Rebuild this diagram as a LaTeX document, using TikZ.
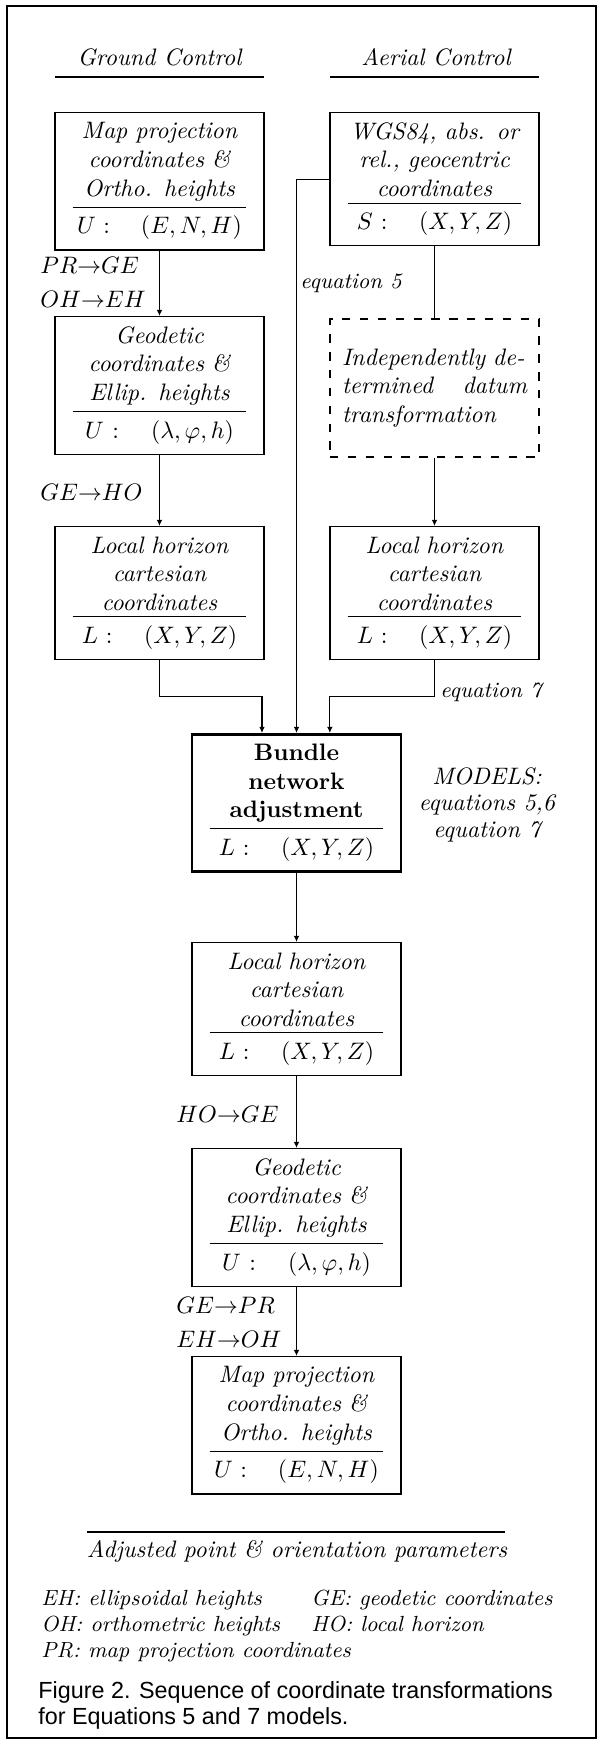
\documentclass[tikz,border=0pt]{standalone}
\usepackage{amsmath,amssymb}
\usepackage{fontspec}
\newfontfamily\capfont{Liberation Sans}
\usetikzlibrary{arrows.meta}

\newcommand{\crdbox}[2]{#1\par\vspace{2.4pt}\hrule\vspace{3.6pt}#2}

\begin{document}
\begin{tikzpicture}[x=0.42pt, y=-0.42pt,
  crd/.style={draw, line width=0.6pt, text width=73pt, inner xsep=7.4pt, inner ysep=4.15pt, align=center, font=\itshape, anchor=north},
  bund/.style={crd, line width=1.2pt, font=\bfseries},
  datum/.style={draw, line width=0.9pt, dash pattern=on 3.5pt off 4pt, text width=77.7pt, inner xsep=5.05pt, minimum height=58pt, align=left, font=\itshape, anchor=north},
  lbl/.style={inner sep=0pt, anchor=base west, font=\itshape},
  leg/.style={lbl, font=\itshape\fontsize{9.2}{11}\selectfont},
  figcap/.style={inner sep=0pt, anchor=base west, font=\capfont\fontsize{9.8}{11}\selectfont},
  conn/.style={line width=0.5pt, -{Latex[length=2.6pt,width=2.4pt]}},
  ]
\useasboundingbox (0,0) rectangle (598,1745);
\draw[line width=0.6pt] (7,6) rectangle (596,1738);

\node[lbl, anchor=base] (hdgr) at (159.5,65) {Ground Control};
\node[lbl, anchor=base] (hdae) at (436,65) {Aerial Control};
\draw[line width=0.6pt] (55,77) -- (264,77);
\draw[line width=0.6pt] (330,77) -- (539,77);

\node[crd] (gmap) at (159.5,112) {\crdbox{Map projection\\ coordinates \&\\ Ortho. heights}{$U:\quad(E,N,H)$}};
\node[crd] (ggeo) at (159.5,316) {\crdbox{Geodetic\\ coordinates \&\\ Ellip. heights}{$U:\quad(\lambda,\varphi,h)$}};
\node[crd] (gloc) at (159.5,526) {\crdbox{Local horizon\\ cartesian\\ coordinates}{$L:\quad(X,Y,Z)$}};

\node[crd] (awgs) at (434.5,112) {\crdbox{WGS84, abs. or\\ rel., geocentric\\ coordinates}{$S:\quad(X,Y,Z)$}};
\node[datum] (adat) at (434.5,318) {Independently de-\\ termined\hfill datum\\ transformation};
\node[crd] (aloc) at (434.5,526) {\crdbox{Local horizon\\ cartesian\\ coordinates}{$L:\quad(X,Y,Z)$}};

\node[bund] (bna) at (296.5,733) {\crdbox{Bundle\\ network\\ adjustment}{$L:\quad(X,Y,Z)$}};
\node[crd] (oloc) at (296.5,942) {\crdbox{Local horizon\\ cartesian\\ coordinates}{$L:\quad(X,Y,Z)$}};
\node[crd] (ogeo) at (296.5,1148) {\crdbox{Geodetic\\ coordinates \&\\ Ellip. heights}{$U:\quad(\lambda,\varphi,h)$}};
\node[crd] (omap) at (296.5,1356) {\crdbox{Map projection\\ coordinates \&\\ Ortho. heights}{$U:\quad(E,N,H)$}};

\draw[conn] (gmap) -- (ggeo);
\draw[conn] (ggeo) -- (gloc);
\draw[conn] (gloc.south) -- ++(0,36) -| ([xshift=-14.5pt]bna.north);
\draw[conn] (awgs.west) -| (bna.north);
\draw[line width=0.5pt] (awgs) -- (adat);
\draw[conn] (adat) -- (aloc);
\draw[conn] (aloc.south) -- ++(0,36) -| ([xshift=14pt]bna.north);
\draw[conn] (bna) -- (oloc);
\draw[conn] (oloc) -- (ogeo);
\draw[conn] (ogeo) -- (omap);

\node[lbl] (lpg) at (40,273) {$PR{\rightarrow}GE$};
\node[lbl] (loe) at (40,307) {$OH{\rightarrow}EH$};
\node[lbl] (lgh) at (40,500) {$GE{\rightarrow}HO$};
\node[leg] (leq5) at (300,288) {equation 5};
\node[leg] (leq7) at (440,697) {equation 7};
\node[lbl, anchor=base] (mdl1) at (487,784) {MODELS:};
\node[lbl, anchor=base] (mdl2) at (487,810) {equations 5,6};
\node[lbl, anchor=base] (mdl3) at (487,837) {equation 7};
\node[lbl] (lhg) at (176,1122) {$HO{\rightarrow}GE$};
\node[lbl] (lgp) at (176,1313) {$GE{\rightarrow}PR$};
\node[lbl] (leo) at (176,1347) {$EH{\rightarrow}OH$};

\draw[line width=0.6pt] (87,1532) -- (505,1532);
\node[lbl, anchor=base] (adj) at (297,1557) {Adjusted point \& orientation parameters};

\node[leg] (lgeh) at (41,1605) {EH: ellipsoidal heights};
\node[leg] (lgoh) at (41,1631) {OH: orthometric heights};
\node[leg] (lgpr) at (41,1657) {PR: map projection coordinates};
\node[leg] (lgge) at (311,1605) {GE: geodetic coordinates};
\node[leg] (lgho) at (311,1631) {HO: local horizon};

\node[figcap] (cap1) at (38,1698) {Figure 2. Sequence of coordinate transformations};
\node[figcap] (cap2) at (38,1724) {for Equations 5 and 7 models.};

\end{tikzpicture}
\end{document}
